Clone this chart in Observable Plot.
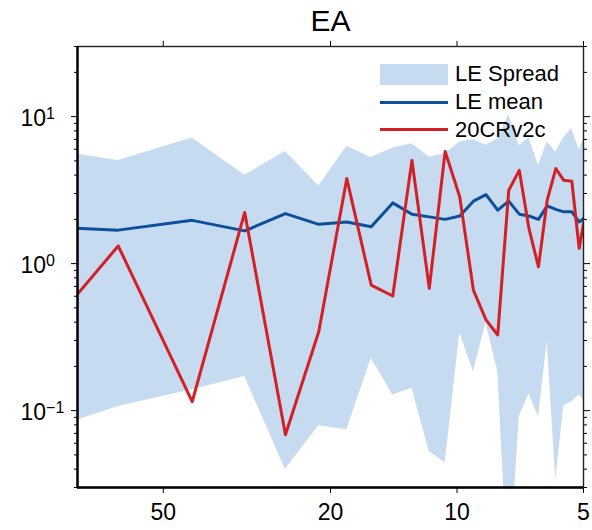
<!DOCTYPE html>
<html>
<head>
<meta charset="utf-8">
<script src="https://cdn.jsdelivr.net/npm/d3@7"></script>
<script src="https://cdn.jsdelivr.net/npm/@observablehq/plot@0.6"></script>
<style>
  body { margin: 0; background: #fff; font-family: "Liberation Sans", Arial, Helvetica, sans-serif; }
  #wrap { position: relative; width: 592px; height: 530px; }
  .lg { position: absolute; }
  .lgt { position: absolute; font-size: 22px; line-height: 22px; color: #000; white-space: nowrap; }
</style>
</head>
<body>
<div id="wrap"></div>
<script>
// Period (years) of each spectral estimate
const period = [128, 64, 42.67, 32, 25.6, 21.33, 18.29, 16, 14.22, 12.8, 11.64, 10.67, 9.85,
                9.14, 8.53, 8, 7.53, 7.11, 6.74, 6.4, 6.1, 5.82, 5.57, 5.33, 5.12, 4.92];
// Large-ensemble spread (lower / upper bound)
const leLow  = [0.0552, 0.1066, 0.1385, 0.1704, 0.0397, 0.0788, 0.0741, 0.227, 0.128, 0.142, 0.0528, 0.0440, 0.339,
                0.184, 0.396, 0.184, 0.0065, 0.0912, 0.130, 0.0912, 0.294, 0.0339, 0.108, 0.115, 0.128, 0.1125];
const leHigh = [6.79, 5.04, 7.15, 3.99, 5.80, 3.38, 6.28, 5.26, 6.11, 6.55, 5.31, 5.60, 6.71,
                6.97, 6.38, 7.08, 10.3, 6.33, 7.15, 4.63, 6.71, 5.74, 7.22, 8.28, 5.90, 7.97];
// Large-ensemble mean
const leMean = [1.84, 1.69, 1.97, 1.67, 2.19, 1.85, 1.92, 1.78, 2.59, 2.17, 2.08, 2.00, 2.11,
                2.66, 2.95, 2.31, 2.66, 2.17, 2.11, 2.00, 2.47, 2.34, 2.25, 2.25, 1.92, 2.10];
// 20CRv2c reanalysis
const cr20   = [0.126, 1.32, 0.115, 2.23, 0.0685, 0.344, 3.79, 0.714, 0.602, 5.04, 0.679, 5.80, 2.84,
                0.661, 0.414, 0.327, 3.16, 4.31, 1.73, 0.951, 2.70, 4.43, 3.69, 3.63, 1.27, 2.43];

const xTicks = [50, 20, 10, 5];
const yMajor = [0.1, 1, 10];
const yMinor = [0.03, 0.04, 0.05, 0.06, 0.07, 0.08, 0.09, 0.2, 0.3, 0.4, 0.5, 0.6, 0.7, 0.8, 0.9,
                2, 3, 4, 5, 6, 7, 8, 9, 20, 30];
const xDomain = [80, 5];
const yDomain = [0.03, 30];
const title = "EA";
const seriesNames = ["LE Spread", "LE mean", "20CRv2c"];
const colors = { spread: "#c6dbef", mean: "#0d4f9b", cr: "#d41f26" };

const rows = period.map((p, i) => ({ period: p, low: leLow[i], high: leHigh[i], mean: leMean[i], cr: cr20[i] }));
const font = '"Liberation Sans", Arial, Helvetica, sans-serif';
const blank = () => "";

const chart = Plot.plot({
  width: 592, height: 530,
  marginLeft: 77, marginRight: 9, marginTop: 46, marginBottom: 43,
  style: { fontFamily: font, background: "#fff", color: "#000", overflow: "visible" },
  x: { type: "log", domain: xDomain },
  y: { type: "log", domain: yDomain },
  marks: [
    Plot.areaY(rows, { x: "period", y1: "low", y2: "high", fill: colors.spread, clip: true }),
    Plot.lineY(rows, { x: "period", y: "mean", stroke: colors.mean, strokeWidth: 3, clip: true }),
    Plot.lineY(rows, { x: "period", y: "cr", stroke: colors.cr, strokeWidth: 3, clip: true }),
    Plot.axisX({ anchor: "bottom", ticks: xTicks, tickSize: 6, tickPadding: 10, fontSize: 23, tickFormat: d => String(d), label: null }),
    Plot.axisX({ anchor: "top", ticks: xTicks, tickSize: 6, tickFormat: blank, label: null }),
    Plot.axisY({ anchor: "left", ticks: yMajor, tickSize: 6, tickFormat: blank, label: null }),
    Plot.axisY({ anchor: "left", ticks: yMinor, tickSize: 3, tickFormat: blank, label: null }),
    Plot.axisY({ anchor: "right", ticks: yMajor, tickSize: 6, tickFormat: blank, label: null }),
    Plot.axisY({ anchor: "right", ticks: yMinor, tickSize: 3, tickFormat: blank, label: null }),
    Plot.axisY({ anchor: "left", ticks: yMajor, tickSize: 0, tickPadding: 0, textAnchor: "start", dx: -57, dy: 2,
                 fontSize: 23, tickFormat: d => "E" + Math.round(Math.log10(d)), label: null }),
    Plot.frame({ stroke: "#222", strokeWidth: 1.4 }),
    Plot.ruleX([xDomain[0]], { stroke: "#000", strokeWidth: 2.4 }),
    Plot.ruleY([yDomain[0]], { stroke: "#000", strokeWidth: 2.4 }),
    Plot.text([title], { text: d => d, frameAnchor: "top", lineAnchor: "bottom", dy: -16, fontSize: 30 })
  ]
});

// superscript exponents on the y tick labels
d3.select(chart).selectAll("text").each(function () {
  const t = this.textContent;
  if (/^E-?\d+$/.test(t)) {
    const e = t.slice(1).replace("-", "\u2212");
    const sel = d3.select(this);
    sel.text(null);
    sel.append("tspan").text("10");
    sel.append("tspan").attr("dy", "-0.45em").attr("font-size", "16px").text(e);
  }
});

const wrap = document.getElementById("wrap");
wrap.appendChild(chart);

// legend
const legendItems = [
  { name: seriesNames[0], kind: "box", color: colors.spread },
  { name: seriesNames[1], kind: "line", color: colors.mean },
  { name: seriesNames[2], kind: "line", color: colors.cr }
];
legendItems.forEach((it, i) => {
  const cy = 74.3 + i * 27.7;
  const sw = document.createElement("div");
  sw.className = "lg";
  sw.style.left = "380px";
  sw.style.width = "68px";
  sw.style.background = it.color;
  if (it.kind === "box") { sw.style.top = (cy - 10.3) + "px"; sw.style.height = "21px"; }
  else { sw.style.top = (cy - 1.5) + "px"; sw.style.height = "3px"; }
  wrap.appendChild(sw);
  const tx = document.createElement("div");
  tx.className = "lgt";
  tx.style.left = "455px";
  tx.style.top = (cy - 11.2) + "px";
  tx.textContent = it.name;
  wrap.appendChild(tx);
});
</script>
</body>
</html>
